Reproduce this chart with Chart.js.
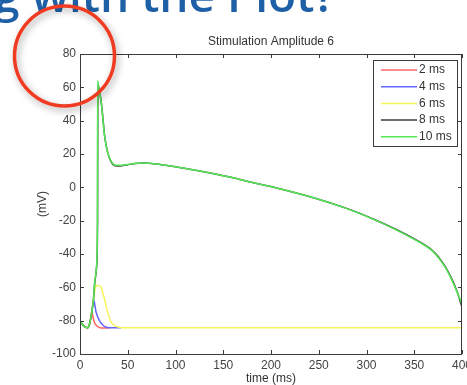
<!DOCTYPE html>
<html>
<head>
<meta charset="utf-8">
<script src="https://cdn.jsdelivr.net/npm/chart.js@4/dist/chart.umd.min.js"></script>
<style>
	body { margin: 0; background: #fff; }
	#wrap { position: relative; width: 467px; height: 385px; overflow: hidden; }
	#over { position: absolute; left: 0; top: 0; pointer-events: none; }
</style>
</head>
<body>
<div id="wrap">
	<canvas id="myChart" width="467" height="385"></canvas>
	<svg id="over" width="467" height="385">
		<defs>
			<filter id="ombra" x="-30%" y="-30%" width="160%" height="160%">
				<feDropShadow dx="2" dy="3" stdDeviation="3.5" flood-color="#000" flood-opacity="0.35"/>
			</filter>
		</defs>
		<text x="-6" y="12" font-family="Open Sans" font-weight="600" font-size="46" fill="#1e60a6">g with the Plot?</text>
		<circle cx="64.5" cy="56" r="50" fill="none" stroke="#ee3b22" stroke-width="3.5" filter="url(#ombra)"/>
	</svg>
</div>
<script>
// etiquetes
const titol = 'Stimulation Amplitude 6';
const labels = ['2 ms', '4 ms', '6 ms', '8 ms', '10 ms'];
const colors = ['#ff6464', '#6464ff', '#f6f65a', '#3c3c3c', '#55e855'];

// temps (ms) i voltatge (mV) de cada traça
const t2 = [0, 3.5, 8, 10, 11.5, 12.2, 13.5, 15, 17, 18.5, 21, 24, 28, 31];
const v2 = [-80, -83, -84.3, -82, -78, -74.5, -77.5, -80.8, -82.8, -83.6, -84.2, -84.4, -84.4, -84.4];

const t4 = [0, 3.5, 8, 10, 12, 13.5, 14.5, 16.8, 20.2, 23, 25.5, 30.7, 36, 43];
const v4 = [-80, -83, -84.3, -82, -76, -70, -67.8, -74.8, -79.8, -82, -83.4, -84.2, -84.3, -84.3];

const t6 = [0, 3.5, 8, 10, 12, 14, 15.5, 17.2, 19, 22, 25.5, 28.9, 32.5, 37.7, 44.7, 60, 400];
const v6 = [-80, -83, -84.3, -82, -76, -68, -62, -58.8, -59, -60, -66.8, -74.8, -80.8, -83.4, -84.2, -84.3, -84.3];

const t8 = [0, 3.5, 8, 10, 12, 14, 15.5, 17.5, 18.4, 18.7, 20, 22.5, 26, 29, 32, 35, 39, 44, 50, 58, 66, 80, 95, 112, 135, 157, 178, 209, 248, 280, 307, 330, 352, 360, 366, 372, 378, 384, 390, 395, 400];
const v8 = [-80, -83, -84.3, -82, -76, -68, -57, -47, -20, 62, 59, 50, 30, 21, 16, 13.5, 12.8, 13, 13.6, 14.3, 14.6, 14, 12.8, 11.2, 8.8, 6.2, 3.2, -0.8, -6.8, -12.8, -19, -25, -31.5, -34.2, -36.5, -39.6, -43.8, -49, -55.8, -62.8, -72];

const t10 = [0, 3.5, 8, 10, 12, 14, 15.5, 17.5, 18.2, 18.5, 19.5, 22, 25.5, 28, 30.7, 34, 37.7, 42, 48, 56, 66, 80, 95, 112, 135, 157, 178, 209, 248, 280, 307, 330, 352, 360, 366, 372, 378, 384, 390, 395, 400];
const v10 = [-80, -83, -84.3, -82, -76, -68, -56, -46, -20, 64, 60, 52, 32, 23, 18, 14.5, 13.2, 13.2, 13.6, 14.3, 14.6, 14, 12.8, 11.2, 8.8, 6.2, 3.2, -0.8, -6.8, -12.9, -19.1, -25.2, -31.8, -34.5, -36.8, -40, -44.3, -49.5, -56.5, -63, -70];

// eixos
const xMin = 0, xMax = 400, xStep = 50;
const yMin = -100, yMax = 80, yStep = 20;

const temps = [t2, t4, t6, t8, t10];
const volts = [v2, v4, v6, v8, v10];

function punts(t, v) {
	return t.map((x, i) => ({ x: x, y: v[i] }));
}

Chart.defaults.font.family = 'Liberation Sans';
Chart.defaults.font.size = 12;

// marc amb ticks cap endins (estil matlab)
const marc = {
	id: 'marc',
	afterDatasetsDraw(chart) {
		const { ctx, chartArea: a, scales: { x, y } } = chart;
		ctx.save();
		ctx.strokeStyle = '#3a3a3a';
		ctx.lineWidth = 1;
		ctx.strokeRect(a.left + 0.5, a.top + 0.5, a.right - a.left - 1, a.bottom - a.top);
		ctx.beginPath();
		x.ticks.forEach((t) => {
			let px = Math.round(x.getPixelForValue(t.value)) + 0.5;
			ctx.moveTo(px, a.bottom); ctx.lineTo(px, a.bottom - 4);
			ctx.moveTo(px, a.top); ctx.lineTo(px, a.top + 4);
		});
		y.ticks.forEach((t) => {
			let py = Math.round(y.getPixelForValue(t.value)) + 0.5;
			ctx.moveTo(a.left, py); ctx.lineTo(a.left + 4, py);
			ctx.moveTo(a.right, py); ctx.lineTo(a.right - 4, py);
		});
		ctx.stroke();

		// llegenda
		const lx = 373.5, ly = 60.5, lw = 84, lh = 86;
		ctx.fillStyle = '#fff';
		ctx.fillRect(lx, ly, lw, lh);
		ctx.strokeRect(lx, ly, lw, lh);
		ctx.font = '12px Liberation Sans';
		ctx.textBaseline = 'middle';
		ctx.textAlign = 'left';
		chart.data.datasets.forEach((ds, i) => {
			let yy = 70 + i * 16.7;
			ctx.strokeStyle = ds.borderColor;
			ctx.lineWidth = 1.5;
			ctx.beginPath();
			ctx.moveTo(381, yy); ctx.lineTo(417, yy);
			ctx.stroke();
			ctx.fillStyle = '#333';
			ctx.fillText(ds.label, 419, yy);
		});
		ctx.restore();
	}
};

const config = {
	type: 'line',
	data: {
		datasets: labels.map((l, i) => ({
			label: l,
			data: punts(temps[i], volts[i]),
			borderColor: colors[i],
			borderWidth: 1.5,
			pointRadius: 0,
			fill: false,
			cubicInterpolationMode: 'monotone',
			order: labels.length - i
		}))
	},
	options: {
		responsive: false,
		animation: false,
		layout: { padding: { left: 0, right: 5, top: 0, bottom: 0 } },
		plugins: {
			legend: { display: false },
			tooltip: { enabled: false },
			title: {
				display: true,
				text: titol,
				fullSize: false,
				color: '#333',
				font: { size: 12, weight: 'normal' },
				padding: { top: 34, bottom: 5.6 }
			}
		},
		scales: {
			x: {
				type: 'linear',
				min: xMin, max: xMax,
				afterFit: (s) => { s.height = 31; s.paddingLeft = 0; s.paddingRight = 0; },
				grid: { display: false, drawTicks: false },
				border: { display: false },
				ticks: { stepSize: xStep, padding: 4, color: '#444', maxRotation: 0, autoSkip: false },
				title: { display: true, text: 'time (ms)', color: '#333', font: { size: 12, lineHeight: 1 }, padding: 0 }
			},
			y: {
				min: yMin, max: yMax,
				afterFit: (s) => { s.width = 80; s.paddingTop = 0; s.paddingBottom = 0; },
				grid: { display: false, drawTicks: false },
				border: { display: false },
				ticks: { stepSize: yStep, padding: 4, color: '#444' },
				title: { display: true, text: '(mV)', color: '#333', font: { size: 12 }, padding: { top: 35, bottom: 0 } }
			}
		}
	},
	plugins: [marc]
};

const myChart = new Chart(document.getElementById('myChart'), config);
</script>
</body>
</html>
